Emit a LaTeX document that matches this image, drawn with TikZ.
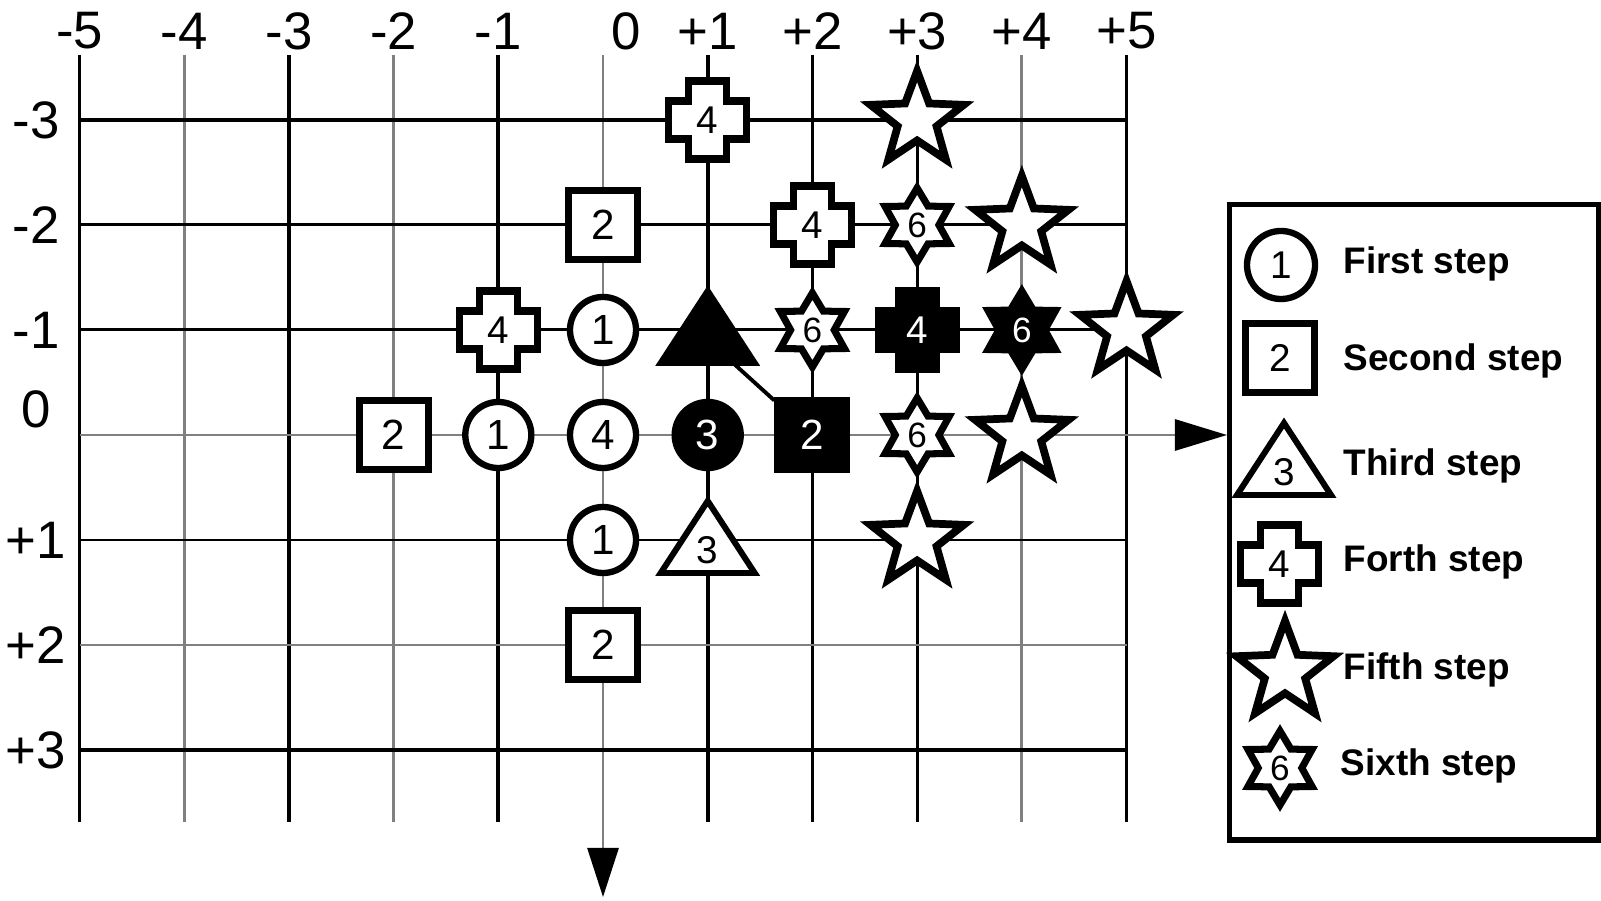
\documentclass[tikz,border=0pt]{standalone}
\usepackage{fontspec}
\setmainfont{Liberation Sans}
\usetikzlibrary{shapes.geometric,arrows.meta,calc}
\begin{document}
\begin{tikzpicture}[x=0.01cm,y=-0.01cm,line join=miter,
  gthick/.style={black,line width=1.1pt},
  gmed/.style={black,line width=0.85pt},
  gthin/.style={black!50,line width=0.8pt},
  axlab/.style={font=\fontsize{15}{15}\selectfont,inner sep=0pt},
  symbase/.style={draw=black,line width=1.8pt,inner sep=0pt,font=\fontsize{12}{12}\selectfont},
  wsym/.style={symbase,fill=white,text=black},
  bsym/.style={symbase,fill=black,text=white},
  circ/.style={circle,minimum size=0.66cm},
  sqr/.style={rectangle,minimum size=0.69cm,line width=2pt},
  fstar/.style={star,star points=5,star point ratio=2.4,minimum size=0.98cm,line width=2.2pt},
  sstar/.style={star,star points=6,star point ratio=1.7,minimum size=0.74cm,line width=2pt,font=\fontsize{10}{10}\selectfont},
  legtext/.style={font=\bfseries\fontsize{10.5}{12}\selectfont,inner sep=0pt,anchor=west},
  pics/plussym/.style n args={3}{code={
    \draw[line width=2pt,draw=black,fill=#2] (-19,-39) -- (19,-39) -- (19,-19) -- (39,-19) -- (39,19) -- (19,19) -- (19,39) -- (-19,39) -- (-19,19) -- (-39,19) -- (-39,-19) -- (-19,-19) -- cycle;
    \node[text=#3,inner sep=0pt,font=\fontsize{11}{11}\selectfont] (-t) {#1};
  }},
  pics/trisym/.style n args={3}{code={
    \draw[line width=1.7pt,draw=black,fill=#2] (0,-39) -- (47,33) -- (-47,33) -- cycle;
    \node[text=#3,inner sep=0pt,font=\fontsize{11}{11}\selectfont] (-t) at (0,10) {#1};
  }}
]
\useasboundingbox (0,0) rectangle (1601,901);

% grid points
\foreach \c in {-5,...,5}{
  \foreach \r in {-3,...,3}{
    \coordinate (g\c x\r) at ({603+104.7*\c},{435+105*\r});
  }
}

% legend box
\node[draw=black,line width=1.5pt,fill=white,anchor=north west,inner sep=0pt,
      minimum width=3.69cm,minimum height=6.35cm] (legend) at (1227,202) {};

% vertical grid lines
\foreach \c/\s in {-5/gmed,-4/gthin,-3/gthick,-2/gthin,-1/gthick,1/gthick,2/gmed,3/gmed,4/gthin,5/gmed}
  \draw[\s] ({603+104.7*\c},55) -- ({603+104.7*\c},822);
\coordinate (v0top) at (603,55);
\coordinate (v0end) at (603,897);
\draw[gthin,-{Triangle[length=0.49cm,width=0.31cm,color=black]}] (v0top) -- (v0end);

% horizontal grid lines
\foreach \r/\s in {-3/gthick,-2/gmed,-1/gmed,1/gmed,2/gthin,3/gthick}
  \draw[\s] (g-5x\r) -- (g5x\r);
\draw[gthin,-{Triangle[length=0.52cm,width=0.31cm,color=black]}] (g-5x0) -- (g-5x0 -| legend.west);

% axis labels
\foreach \c/\t in {-5/-5,-4/-4,-3/-3,-2/-2,-1/-1,1/+1,2/+2,3/+3,4/+4,5/+5}
  \node[axlab] (tx\c) at ({603+104.7*\c},31) {\t};
\node[axlab] (tx0) at (626,31) {0};
\foreach \r/\t in {-3/-3,-2/-2,-1/-1,1/+1,2/+2,3/+3}
  \node[axlab] (ty\r) at (36,{435+105*\r}) {\t};
\node[axlab] (ty0) at (36,409) {0};

% symbols on the grid
\pic (p1) at (g1x-3) {plussym={4}{white}{black}};
\node[wsym,fstar] (s1) at (g3x-3) {};
\node[wsym,sqr] (q1) at (g0x-2) {2};
\pic (p2) at (g2x-2) {plussym={4}{white}{black}};
\node[wsym,sstar] (h1) at (g3x-2) {6};
\node[wsym,fstar] (s2) at (g4x-2) {};
\pic (p3) at (g-1x-1) {plussym={4}{white}{black}};
\node[wsym,circ] (c1) at (g0x-1) {1};
\pic (t1) at (g1x-1) {trisym={}{black}{white}};
\node[wsym,sstar] (h2) at (g2x-1) {6};
\pic (p4) at (g3x-1) {plussym={4}{black}{white}};
\node[bsym,sstar,minimum size=0.78cm] (h3) at (g4x-1) {6};
\node[wsym,fstar] (s3) at (g5x-1) {};
\node[wsym,sqr] (q2) at (g-2x0) {2};
\node[wsym,circ] (c2) at (g-1x0) {1};
\node[wsym,circ] (c3) at (g0x0) {4};
\node[bsym,circ] (c4) at (g1x0) {3};
\node[bsym,sqr] (q3) at (g2x0) {2};
\node[wsym,sstar] (h4) at (g3x0) {6};
\node[wsym,fstar] (s4) at (g4x0) {};
\node[wsym,circ] (c5) at (g0x1) {1};
\pic (t2) at (g1x1) {trisym={3}{white}{black}};
\node[wsym,fstar] (s5) at (g3x1) {};
\node[wsym,sqr] (q4) at (g0x2) {2};

% diagonal connector
\draw[line width=1.1pt] (t1-t) -- (q3);

% legend contents
\node[wsym,circ,minimum size=0.68cm,font=\fontsize{11}{11}\selectfont] (lc) at (1281,265) {1};
\node[wsym,sqr,font=\fontsize{11}{11}\selectfont] (lq) at (1280,358) {2};
\pic (lt) at (1284,462) {trisym={3}{white}{black}};
\pic (lp) at (1279,564) {plussym={4}{white}{black}};
\node[wsym,fstar,minimum size=1.02cm] (ls) at (1285,672) {};
\node[wsym,sstar] (lh) at (1280,768) {6};
\node[legtext] (l1) at (1343,264) {First step};
\node[legtext] (l2) at (1343,361) {Second step};
\node[legtext] (l3) at (1343,466) {Third step};
\node[legtext] (l4) at (1343,562) {Forth step};
\node[legtext] (l5) at (1343,670) {Fifth step};
\node[legtext] (l6) at (1340,766) {Sixth step};
\end{tikzpicture}
\end{document}
